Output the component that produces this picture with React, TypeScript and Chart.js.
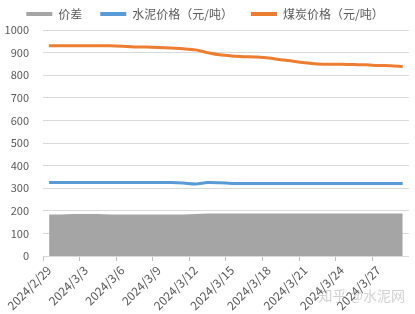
import React, { useEffect, useRef } from "react";
import { Chart, registerables } from "chart.js";

Chart.register(...registerables);

const categories: string[] = [
  "2024/2/29", "2024/3/1", "2024/3/2", "2024/3/3", "2024/3/4", "2024/3/5",
  "2024/3/6", "2024/3/7", "2024/3/8", "2024/3/9", "2024/3/10", "2024/3/11",
  "2024/3/12", "2024/3/13", "2024/3/14", "2024/3/15", "2024/3/16", "2024/3/17",
  "2024/3/18", "2024/3/19", "2024/3/20", "2024/3/21", "2024/3/22", "2024/3/23",
  "2024/3/24", "2024/3/25", "2024/3/26", "2024/3/27", "2024/3/28", "2024/3/29",
];

const spread: number[] = [
  184, 184, 186, 186, 186, 184, 184, 184, 184, 184, 184, 184,
  186, 188, 188, 188, 188, 188, 188, 188, 188, 188, 188, 188,
  188, 188, 188, 188, 188, 188,
];

const cementPrice: number[] = [
  325, 325, 325, 325, 325, 325, 325, 325, 325, 325, 325, 323,
  319, 325, 324, 321, 321, 321, 321, 321, 321, 321, 321, 321,
  321, 321, 321, 321, 321, 321,
];

const coalPrice: number[] = [
  930, 930, 930, 930, 930, 930, 928, 925, 925, 923, 920, 917,
  912, 900, 890, 885, 882, 880, 876, 868, 862, 855, 850, 848,
  848, 847, 846, 843, 842, 838,
];

const seriesNames: string[] = ["价差", "水泥价格（元/吨）", "煤炭价格（元/吨）"];
const yTicks: number[] = [0, 100, 200, 300, 400, 500, 600, 700, 800, 900, 1000];
const watermark = "知乎 @水泥网";

const FONT = "'Noto Sans CJK SC', 'Noto Sans', sans-serif";
const TEXT = "#595959";
const COLORS = ["#A5A5A5", "#5B9BD5", "#ED7D31"];

export default function App() {
  const ref = useRef<HTMLCanvasElement | null>(null);

  useEffect(() => {
    document.body.style.margin = "0";
    const canvas = ref.current;
    if (!canvas) return;

    const fixLegend = {
      id: "fixLegend",
      afterInit(chart: any) {
        if (chart.legend) {
          chart.legend.afterFit = function () {
            this.height = 48;
          };
        }
      },
    };

    const wm = {
      id: "watermark",
      afterDraw(chart: any) {
        const ctx = chart.ctx;
        ctx.save();
        ctx.font = `14px ${FONT}`;
        ctx.fillStyle = "rgba(140,140,140,0.4)";
        ctx.textAlign = "right";
        ctx.textBaseline = "middle";
        ctx.fillText(watermark, chart.width - 10, chart.height - 18);
        ctx.restore();
      },
    };

    const chart = new Chart(canvas, {
      type: "line",
      data: {
        labels: categories,
        datasets: [
          {
            label: seriesNames[0],
            data: spread,
            fill: "origin",
            backgroundColor: COLORS[0],
            borderColor: COLORS[0],
            borderWidth: 0,
            pointRadius: 0,
            tension: 0,
            order: 10,
          },
          {
            label: seriesNames[1],
            data: cementPrice,
            fill: false,
            borderColor: COLORS[1],
            backgroundColor: COLORS[1],
            borderWidth: 3,
            pointRadius: 0,
            tension: 0.3,
            order: 2,
          },
          {
            label: seriesNames[2],
            data: coalPrice,
            fill: false,
            borderColor: COLORS[2],
            backgroundColor: COLORS[2],
            borderWidth: 3,
            pointRadius: 0,
            tension: 0.3,
            order: 1,
          },
        ],
      },
      options: {
        animation: false,
        responsive: true,
        maintainAspectRatio: false,
        layout: { padding: { left: 0, right: 5, top: -10, bottom: 0 } },
        plugins: {
          tooltip: { enabled: false },
          legend: {
            position: "top",
            labels: {
              boxWidth: 26,
              boxHeight: 4,
              padding: 18,
              color: TEXT,
              font: { size: 12, family: FONT },
              generateLabels: (c: any) =>
                c.data.datasets.map((ds: any, i: number) => ({
                  text: ds.label,
                  fillStyle: COLORS[i],
                  strokeStyle: COLORS[i],
                  lineWidth: 0,
                  hidden: false,
                  datasetIndex: i,
                  fontColor: TEXT,
                })),
            },
          },
        },
        scales: {
          x: {
            type: "category",
            offset: true,
            afterFit: (s: any) => {
              s.height = 58;
            },
            grid: {
              display: true,
              offset: true,
              drawOnChartArea: false,
              drawTicks: true,
              tickLength: 5,
              tickColor: (ctx: any) => (ctx.index % 3 === 0 ? "#BFBFBF" : "rgba(0,0,0,0)"),
            },
            border: { display: true, color: "#D9D9D9" },
            ticks: {
              autoSkip: false,
              maxRotation: 45,
              minRotation: 45,
              color: TEXT,
              font: { size: 12, family: FONT },
              padding: 2,
              callback: (_v: any, i: number) => (i % 3 === 0 ? categories[i] : ""),
            },
          },
          y: {
            min: yTicks[0],
            max: yTicks[yTicks.length - 1],
            afterFit: (s: any) => {
              s.width = 43;
            },
            afterBuildTicks: (s: any) => {
              s.ticks = yTicks.map((v) => ({ value: v }));
            },
            grid: { color: "#D9D9D9", drawTicks: false },
            border: { display: false },
            ticks: {
              color: TEXT,
              font: { size: 11, family: FONT },
              padding: 14,
              callback: (v: any) => String(v),
            },
          },
        },
      },
      plugins: [fixLegend, wm],
    });

    return () => chart.destroy();
  }, []);

  return (
    <div style={{ width: 415, height: 314, position: "relative" }}>
      <canvas ref={ref} />
    </div>
  );
}
